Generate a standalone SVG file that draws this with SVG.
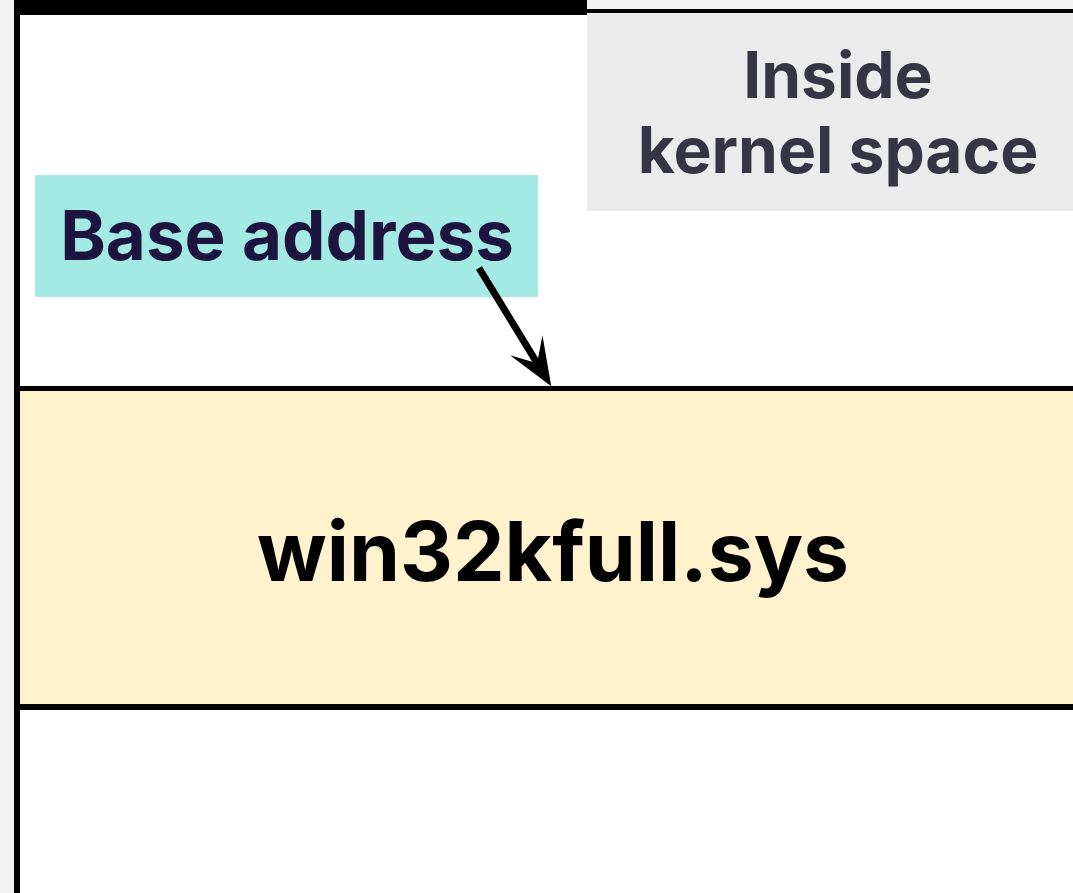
<svg xmlns="http://www.w3.org/2000/svg" width="1073" height="893" viewBox="0 0 1073 893">
  <defs>
    <style>
      .lbl { font-family: Inter, "Liberation Sans", sans-serif; font-weight: 700; text-anchor: middle; }
      .edge { stroke: #000; stroke-width: 7; fill: none; }
    </style>
    <marker id="barb" markerUnits="userSpaceOnUse" markerWidth="50" markerHeight="40" refX="36" refY="20" orient="auto" viewBox="0 0 50 40">
      <path d="M48 20 L0 1 L21 20 L0 39 Z" fill="#000"/>
    </marker>
  </defs>

  <!-- page background -->
  <rect x="0" y="0" width="1073" height="893" fill="#f2f2f2"/>
  <rect x="17" y="12" width="1056" height="881" fill="#ffffff"/>

  <!-- memory column frame -->
  <g id="frame">
    <rect x="14" y="0" width="573" height="15" fill="#000"/>
    <rect x="587" y="9" width="486" height="4" fill="#000"/>
    <rect x="14" y="0" width="6" height="893" fill="#000"/>
  </g>

  <g id="kernel-space">
    <rect x="587" y="13" width="486" height="198" fill="#ebebeb"/>
    <text class="lbl" x="838" y="98" font-size="64" fill="#363545">Inside</text>
    <text class="lbl" x="838" y="173" font-size="64" fill="#363545">kernel space</text>
  </g>

  <g id="win32kfull">
    <rect x="20" y="388" width="1053" height="319" fill="#fff2cc"/>
    <line x1="20" y1="388.5" x2="1073" y2="388.5" stroke="#000" stroke-width="5"/>
    <line x1="20" y1="707" x2="1073" y2="707" stroke="#000" stroke-width="6"/>
    <text class="lbl" x="553" y="581" font-size="82" fill="#000">win32kfull.sys</text>
  </g>

  <g id="base-address">
    <rect x="35" y="175" width="503" height="122" fill="#a3e9e4"/>
    <text class="lbl" x="287" y="260" font-size="69" fill="#1e1440">Base address</text>
  </g>

  <g id="connectors">
    <line class="edge" x1="479" y1="268" x2="545" y2="376" marker-end="url(#barb)"/>
  </g>
</svg>
